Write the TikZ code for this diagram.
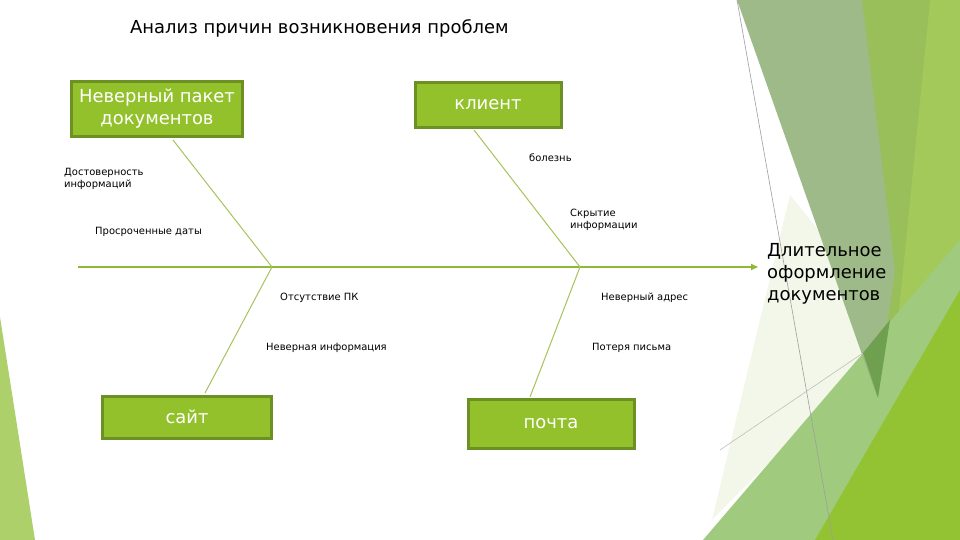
\documentclass[tikz,border=0pt]{standalone}
\usepackage{fontspec}
\setmainfont{DejaVu Sans}
\usetikzlibrary{arrows.meta}
\definecolor{boxfill}{HTML}{93C12C}
\definecolor{boxline}{HTML}{6C9023}
\definecolor{bonecol}{HTML}{A6C45C}
\definecolor{spinecol}{HTML}{8FB73A}
\definecolor{palebg}{HTML}{F3F7E9}
\definecolor{yellowg}{HTML}{A3C95A}
\definecolor{medg}{HTML}{98BF5A}
\definecolor{lightband}{HTML}{A0CB7E}
\definecolor{brightg}{HTML}{93C232}
\definecolor{greyg}{HTML}{9DBA88}
\definecolor{darkg}{HTML}{6FA050}
\definecolor{sliver}{HTML}{ADD06A}
\tikzset{
  causebox/.style={draw=boxline, line width=3bp, fill=boxfill, text=white, inner sep=0pt, align=center, font=\fontsize{18}{22}\selectfont},
  smalllabel/.style={anchor=west, inner sep=0pt, align=left, font=\fontsize{10}{12}\selectfont},
  bonestyle/.style={draw=bonecol, line width=1bp},
  spinestyle/.style={draw=spinecol, line width=1.6bp, -{Triangle[length=7bp,width=6bp]}},
  thinline/.style={draw=black!38, line width=0.6bp}
}
\begin{document}
\begin{tikzpicture}[x=1bp,y=-1bp]
\useasboundingbox (0,0) rectangle (960,540);
\fill[white] (0,0) rectangle (960,540);
% background decoration
\fill[palebg] (790,195) -- (900,330) -- (712,520) -- cycle;
\fill[yellowg] (858,0) -- (960,0) -- (960,540) -- (880,540) -- cycle;
\fill[medg] (860,0) -- (930,0) -- (890,400) -- cycle;
\fill[lightband] (703,540) -- (960,240) -- (960,540) -- cycle;
\fill[brightg] (815,540) -- (960,290) -- (960,540) -- cycle;
\fill[greyg] (737,0) -- (862,0) -- (895,270) -- (877,397) -- cycle;
\fill[darkg] (863,353) -- (890,320) -- (878,398) -- cycle;
\fill[sliver] (0,317) -- (35,540) -- (0,540) -- cycle;
\draw[thinline] (737,0) -- (833,540);
\draw[thinline, draw=black!25] (720,450) -- (863,353);

% title
\node[anchor=west, inner sep=0pt, font=\fontsize{18}{22}\selectfont] (title) at (130,28) {Анализ причин возникновения проблем};

% cause boxes
\node[causebox, minimum width=171bp, minimum height=55bp] (b1) at (157,109) {Неверный пакет\\документов};
\node[causebox, minimum width=146bp, minimum height=45bp] (b2) at (488,105) {клиент};
\node[causebox, minimum width=169bp, minimum height=42bp] (b3) at (187,417) {сайт};
\node[causebox, minimum width=166bp, minimum height=49bp] (b4) at (551,424) {почта};

% effect
\node[anchor=west, inner sep=0pt, align=left, font=\fontsize{18}{22}\selectfont] (eff) at (767,274) {Длительное\\оформление\\документов};

% spine
\coordinate (s0) at (78,267);
\coordinate (j1) at (272,267);
\coordinate (j2) at (580,267);
\coordinate (s1) at (758,267);
\draw[spinestyle] (s0) -- (s1);

% bone ends on boxes
\coordinate (k1) at (173,140);
\coordinate (k2) at (474,130);
\coordinate (k3) at (205,393);
\coordinate (k4) at (530,397);
\draw[bonestyle] (k1) -- (j1) -- (k3);
\draw[bonestyle] (k2) -- (j2) -- (k4);

% labels
\node[smalllabel] (l1) at (64,179) {Достоверность\\информаций};
\node[smalllabel] (l2) at (95,232) {Просроченные даты};
\node[smalllabel] (l3) at (280,298) {Отсутствие ПК};
\node[smalllabel] (l4) at (266,348) {Неверная информация};
\node[smalllabel] (l5) at (529,158) {болезнь};
\node[smalllabel] (l6) at (570,220) {Скрытие\\информации};
\node[smalllabel] (l7) at (601,298) {Неверный адрес};
\node[smalllabel] (l8) at (592,348) {Потеря письма};
\end{tikzpicture}
\end{document}
